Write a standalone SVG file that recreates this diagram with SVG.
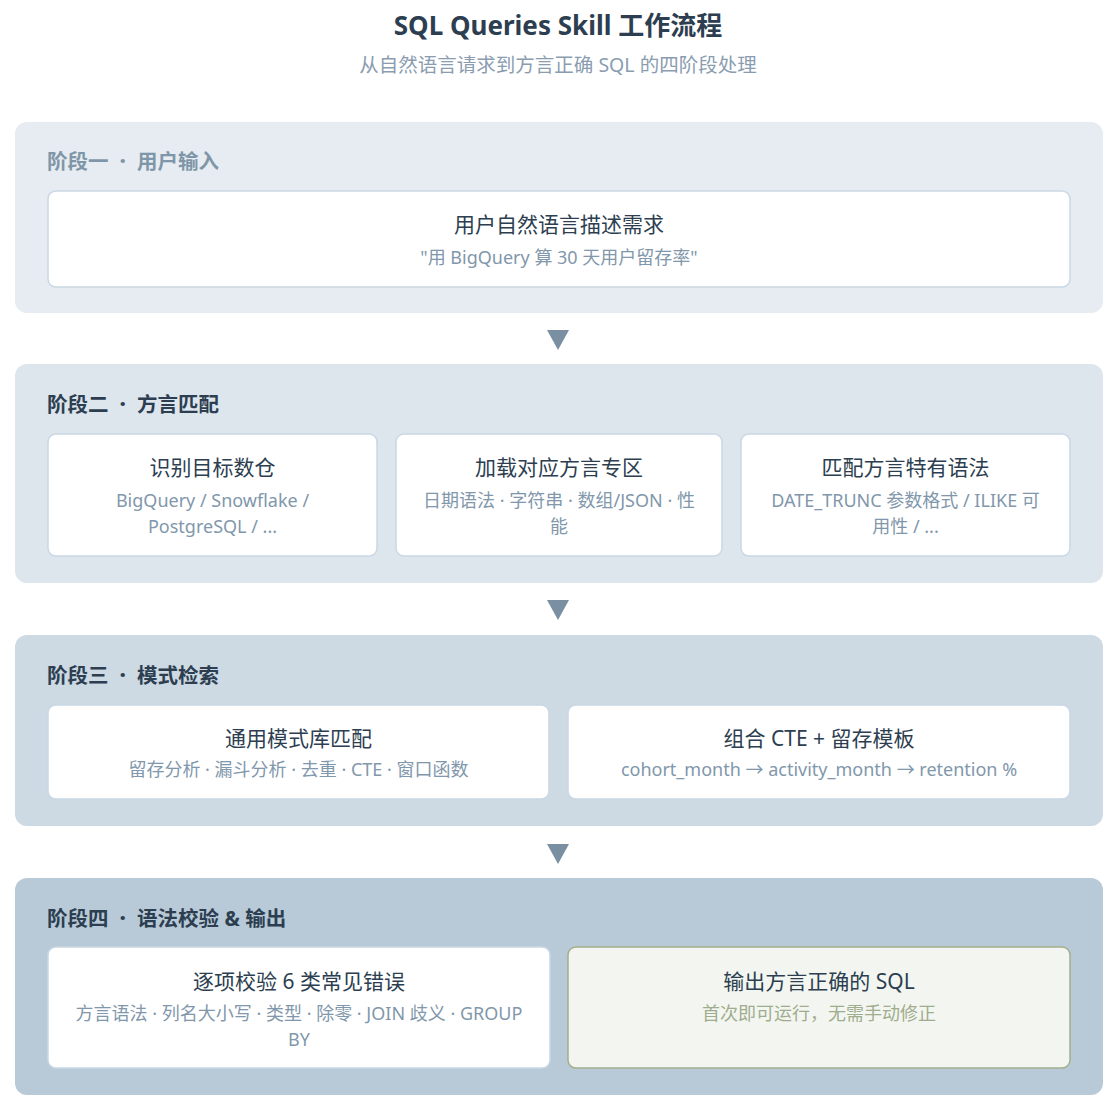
<svg xmlns="http://www.w3.org/2000/svg" width="1116" height="1108" viewBox="0 0 1116 1108">
<style>
text{font-family:"Noto Sans","Noto Sans CJK SC",sans-serif;}
.title{font-size:26px;font-weight:700;fill:#2c3e50;text-anchor:middle;}
.subtitle{font-size:19.5px;fill:#8a9cb0;text-anchor:middle;}
.stage{font-size:20.5px;font-weight:700;fill:#2c3e50;}
.stage1{fill:#7f96a8;}
.dot{font-weight:900;}
.node{fill:#ffffff;stroke:#c9d8e4;stroke-width:1.5;}
.final{fill:#f3f6f0;stroke:#a3ae8a;stroke-width:1.5;}
.nt{font-size:21px;fill:#2c3e50;text-anchor:middle;}
.ns{font-size:18px;fill:#8197ab;text-anchor:middle;}
.nsg{font-size:18px;fill:#9fac8e;text-anchor:middle;}
.arrow{fill:#7b8fa3;}
</style>
<rect width="1116" height="1108" fill="#ffffff"/>
<text class="title" x="558" y="35">SQL Queries Skill 工作流程</text>
<text class="subtitle" x="558" y="72">从自然语言请求到方言正确 SQL 的四阶段处理</text>

<g id="stage1">
<rect x="15" y="122" width="1088" height="191" rx="12" fill="#e6ecf1"/>
<text class="stage stage1" x="47" y="169">阶段一<tspan class="dot" dx="6"> · </tspan><tspan dx="6">用户输入</tspan></text>
</g>
<g id="node-input">
<rect class="node" x="48" y="191" width="1022" height="96" rx="8"/>
<text class="nt" x="559" y="232">用户自然语言描述需求</text>
<text class="ns" x="559" y="264">"用 BigQuery 算 30 天用户留存率"</text>
</g>

<g id="stage2">
<rect x="15" y="364" width="1088" height="219" rx="12" fill="#dde5ed"/>
<text class="stage" x="47" y="412">阶段二<tspan class="dot" dx="6"> · </tspan><tspan dx="6">方言匹配</tspan></text>
</g>
<g id="node-identify">
<rect class="node" x="48" y="434" width="329" height="122" rx="8"/>
<text class="nt" x="212.5" y="475">识别目标数仓</text>
<text class="ns" x="212.5" y="507">BigQuery / Snowflake /</text>
<text class="ns" x="212.5" y="533">PostgreSQL / ...</text>
</g>
<g id="node-load">
<rect class="node" x="396" y="434" width="326" height="122" rx="8"/>
<text class="nt" x="559" y="475">加载对应方言专区</text>
<text class="ns" x="559" y="507">日期语法 · 字符串 · 数组/JSON · 性</text>
<text class="ns" x="559" y="533">能</text>
</g>
<g id="node-match">
<rect class="node" x="741" y="434" width="329" height="122" rx="8"/>
<text class="nt" x="905.5" y="475">匹配方言特有语法</text>
<text class="ns" x="905.5" y="507">DATE_TRUNC 参数格式 / ILIKE 可</text>
<text class="ns" x="905.5" y="533">用性 / ...</text>
</g>

<g id="stage3">
<rect x="15" y="635" width="1088" height="191" rx="12" fill="#cdd9e3"/>
<text class="stage" x="47" y="683">阶段三<tspan class="dot" dx="6"> · </tspan><tspan dx="6">模式检索</tspan></text>
</g>
<g id="node-pattern">
<rect class="node" x="48" y="705" width="501" height="94" rx="8"/>
<text class="nt" x="298.5" y="746">通用模式库匹配</text>
<text class="ns" x="298.5" y="776">留存分析 · 漏斗分析 · 去重 · CTE · 窗口函数</text>
</g>
<g id="node-cte">
<rect class="node" x="568" y="705" width="502" height="94" rx="8"/>
<text class="nt" x="819" y="746">组合 CTE + 留存模板</text>
<text class="ns" x="819" y="776">cohort_month → activity_month → retention %</text>
</g>

<g id="stage4">
<rect x="15" y="878" width="1088" height="217" rx="12" fill="#b8cad8"/>
<text class="stage" x="47" y="926">阶段四<tspan class="dot" dx="6"> · </tspan><tspan dx="6">语法校验 &amp; 输出</tspan></text>
</g>
<g id="node-check">
<rect class="node" x="48" y="947" width="502" height="121" rx="8"/>
<text class="nt" x="299" y="989">逐项校验 6 类常见错误</text>
<text class="ns" x="299" y="1020">方言语法 · 列名大小写 · 类型 · 除零 · JOIN 歧义 · GROUP</text>
<text class="ns" x="299" y="1046">BY</text>
</g>
<g id="node-output">
<rect class="final" x="568" y="947" width="502" height="121" rx="8"/>
<text class="nt" x="819" y="989">输出方言正确的 SQL</text>
<text class="nsg" x="819" y="1020">首次即可运行，无需手动修正</text>
</g>

<g id="connectors">
<polygon class="arrow" points="547,330 569,330 558,350"/>
<polygon class="arrow" points="547,600 569,600 558,620"/>
<polygon class="arrow" points="547,844 569,844 558,864"/>
</g>
</svg>
